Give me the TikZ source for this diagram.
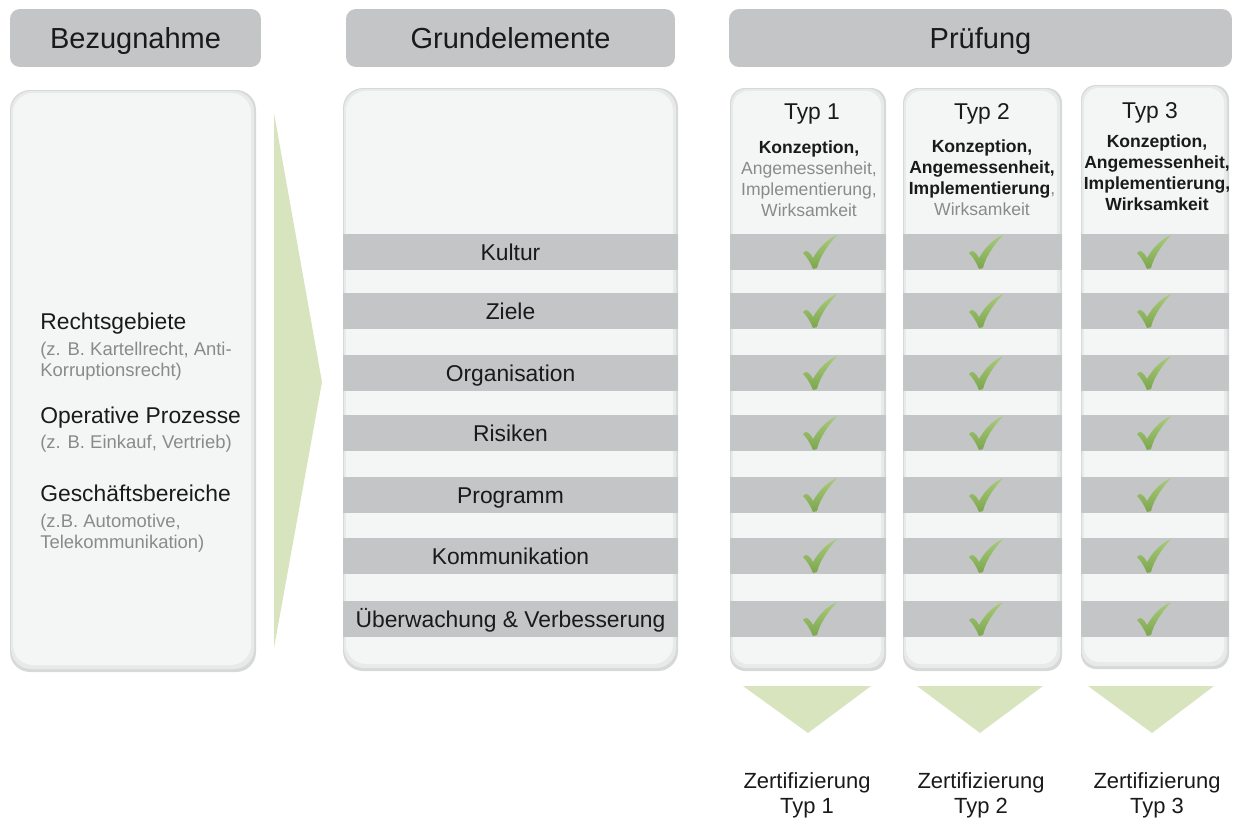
\documentclass[tikz,border=0pt]{standalone}
\usepackage{fontspec}
\setmainfont{Liberation Sans}

\definecolor{hdrgray}{HTML}{C4C5C7}
\definecolor{panelfill}{HTML}{F4F6F6}
\definecolor{panelmid}{HTML}{E8E9E9}
\definecolor{panelring}{HTML}{D7D8D8}
\definecolor{subgray}{HTML}{8A8A8A}
\definecolor{darktext}{HTML}{1A1A1A}
\definecolor{arrowgreen}{HTML}{D7E4BD}
\definecolor{tickhi}{HTML}{A9CB7A}
\definecolor{ticklo}{HTML}{7CA64D}

\begin{document}
\begin{tikzpicture}[x=0.02cm, y=-0.02cm]
    % Define styles
    \tikzset{
      hdr/.style={fill=hdrgray, rounded corners=2mm, minimum height=1.16cm, inner sep=0pt,
                  text=darktext, text height=11.8pt, text depth=0pt, font=\fontsize{16.5}{20}\selectfont},
      elembar/.style={fill=hdrgray, minimum width=6.7cm, minimum height=0.72cm, inner sep=0pt,
                  text=darktext, text height=9.3pt, text depth=0pt, font=\fontsize{13}{15}\selectfont},
      lefttitle/.style={anchor=base west, inner sep=0pt, text=darktext, font=\fontsize{13}{15}\selectfont},
      leftsub/.style={anchor=north west, inner sep=0pt, align=left, text=subgray, font=\fontsize{10.5}{11.9}\selectfont},
      typtitle/.style={inner sep=0pt, text=darktext, text height=9.3pt, text depth=0pt, font=\fontsize{13}{15}\selectfont},
      typdesc/.style={anchor=north, inner sep=0pt, align=center, text=darktext, font=\fontsize{10}{12}\selectfont},
      zert/.style={anchor=north, inner sep=0pt, align=center, text=darktext, font=\fontsize{12.5}{14.2}\selectfont},
      tick/.pic={
        \shade[top color=tickhi, bottom color=ticklo]
          (-17,1) .. controls (-14,-3) and (-11,-1) .. (-7,6)
          .. controls (0,-6) and (8,-13) .. (17,-17)
          .. controls (8,-7) and (0,4) .. (-3,16) -- (-7,17)
          .. controls (-10,10) and (-13,5) .. cycle;
      }
    }
    \useasboundingbox (0,0) rectangle (1236,818);

    % Headers
    \node[hdr, minimum width=5.02cm] (bezug) at (135.5,38) {Bezugnahme};
    \node[hdr, minimum width=6.58cm] (grund) at (510.5,38) {Grundelemente};
    \node[hdr, minimum width=10.06cm] (pruef) at (980.5,38) {Prüfung};

    % Panels with a soft rim
    \foreach \xa/\ya/\xb/\yb/\rr in {10/90/256/672/4mm, 343/88/678/671/4mm,
                                     730/88/886/671/3mm, 903/88/1062/671/3mm, 1081/85/1229/669/3mm}{
      \fill[panelring, rounded corners=\rr] (\xa,\ya) rectangle (\xb,\yb);
      \fill[panelmid, rounded corners=\rr] (\xa+1,\ya+1) rectangle (\xb-2,\yb-3);
      \fill[panelfill, rounded corners=\rr] (\xa+3,\ya+3) rectangle (\xb-5,\yb-7);
    }

    % Green arrows
    \fill[arrowgreen] (274,113) -- (322,382) -- (274,648) -- cycle;
    \foreach \xa/\xb/\xt in {743/871/808, 917/1043/980, 1088/1214/1152}
      \fill[arrowgreen] (\xa,686) -- (\xb,686) -- (\xt,733) -- cycle;

    % Left column
    \node[lefttitle] (recht) at (40,329) {Rechtsgebiete};
    \node[leftsub] (rechtsub) at (40,341.5) {(z. B. Kartellrecht, Anti-\\Korruptionsrecht)};
    \node[lefttitle] (prozess) at (40,423) {Operative Prozesse};
    \node[leftsub] (prozesssub) at (40,434.5) {(z. B. Einkauf, Vertrieb)};
    \node[lefttitle] (bereich) at (40,501) {Geschäftsbereiche};
    \node[leftsub] (bereichsub) at (40,513.5) {(z.B. Automotive,\\Telekommunikation)};

    % Elements and checks
    \foreach \lbl/\yy [count=\i] in {Kultur/252, Ziele/311, Organisation/373, Risiken/433,
                                     Programm/495, Kommunikation/556, Überwachung \& Verbesserung/619}{
      \node[elembar] (elem\i) at (510.5,\yy) {\lbl};
      \foreach \xa/\xb/\cx in {730/886/820, 903/1062/986, 1081/1229/1154}{
        \fill[hdrgray] (\xa,\yy-18) rectangle (\xb,\yy+18);
        \pic at (\cx,\yy) {tick};
      }
    }

    % Audit types
    \node[typtitle] (typ1) at (812,111.5) {Typ 1};
    \node[typtitle] (typ2) at (982,111.5) {Typ 2};
    \node[typtitle] (typ3) at (1150,110) {Typ 3};
    \node[typdesc] (desc1) at (809,140) {\textbf{Konzeption,}\\\textcolor{subgray}{Angemessenheit,}\\
      \textcolor{subgray}{Implementierung,}\\\textcolor{subgray}{Wirksamkeit}};
    \node[typdesc] (desc2) at (982,139) {\textbf{Konzeption,}\\\textbf{Angemessenheit,}\\
      \textbf{Implementierung}\textcolor{subgray}{,}\\\textcolor{subgray}{Wirksamkeit}};
    \node[typdesc] (desc3) at (1157,134) {\textbf{Konzeption,}\\\textbf{Angemessenheit,}\\
      \textbf{Implementierung,}\\\textbf{Wirksamkeit}};

    % Certifications
    \node[zert] (zert1) at (807,772) {Zertifizierung\\Typ 1};
    \node[zert] (zert2) at (981,772) {Zertifizierung\\Typ 2};
    \node[zert] (zert3) at (1157,772) {Zertifizierung\\Typ 3};
\end{tikzpicture}
\end{document}
